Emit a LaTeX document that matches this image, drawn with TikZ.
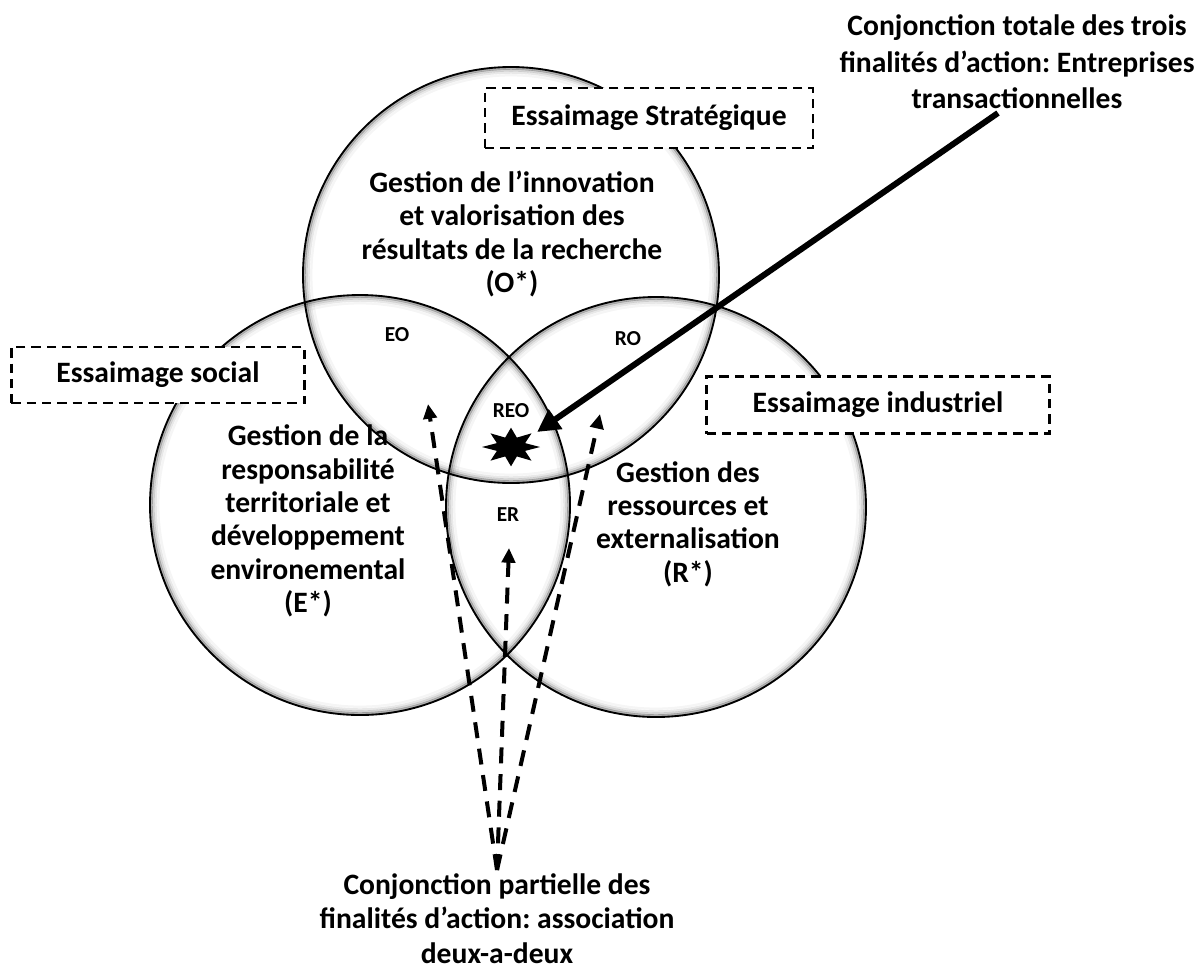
\documentclass[tikz,border=0pt]{standalone}
\usepackage{fontspec}
\setmainfont{Carlito}
\usetikzlibrary{arrows.meta,shapes.geometric}
\frenchspacing

\newcommand\softring[2]{%
  \foreach \d/\op in {1.2/0.30,2.6/0.17,4.2/0.09,6.2/0.04}{%
    \draw[line width=1.7pt,black,opacity=\op] (#1) circle[radius=#2-\d pt];}%
  \draw[line width=1.4pt] (#1) circle[radius=#2];}

\begin{document}
\begin{tikzpicture}[x=0.75pt,y=-0.75pt,
  bigtxt/.style={font=\fontsize{22.2}{25}\selectfont\bfseries,align=center,inner sep=0pt},
  notetxt/.style={font=\fontsize{22.2}{27.5}\selectfont\bfseries,align=center,inner sep=0pt},
  zonelbl/.style={font=\fontsize{16}{19}\selectfont\bfseries,inner sep=0pt},
  tagbox/.style={draw,line width=1.8pt,dash pattern=on 7pt off 4.5pt,fill=white,
    inner sep=0pt,font=\fontsize{22.2}{25}\selectfont\bfseries},
  dasharrow/.style={line width=3pt,dash pattern=on 12pt off 8pt,
    -{Triangle[length=11pt,width=10pt]}},
  bigarrow/.style={line width=4.5pt,-{Triangle[length=17pt,width=17pt]}}]

\useasboundingbox (0,0) rectangle (1200,972);
\fill[white] (0,0) rectangle (1200,972);

% the three domains
\coordinate (cO) at (511,275);
\coordinate (cE) at (360,505);
\coordinate (cR) at (656,507);
\softring{cO}{156pt}
\softring{cE}{157.5pt}
\softring{cR}{157.5pt}

% dashed labels of the three kinds of spin-off
\node[tagbox,minimum width=246pt,minimum height=45pt] (strat) at (649,118) {Essaimage Stratégique};
\node[tagbox,minimum width=220pt,minimum height=42pt] (social) at (158,375) {Essaimage social};
\node[tagbox,minimum width=257pt,minimum height=43pt] (indus) at (878,405) {Essaimage industriel};

% texts inside the circles
\node[bigtxt] (tO) at (512,234) {Gestion de l'innovation\\et valorisation des\hspace*{0.8em}\\résultats de la recherche\\(O*)};
\node[bigtxt] (tE) at (308,521) {Gestion de la\\responsabilité\\territoriale et\\développement\\environemental\\(E*)};
\node[bigtxt] (tR) at (688,524) {Gestion des\\ressources et\\externalisation\\(R*)};

% intersection zones
\node[zonelbl] (EO) at (397,335) {EO};
\node[zonelbl] (RO) at (628,339) {RO};
\node[zonelbl] (REO) at (511,411) {REO};
\node[zonelbl] (ER) at (508,515) {ER};
\node[star,star points=8,star point ratio=1.9,fill=black,inner sep=0pt,
  minimum size=29pt,xscale=1.5,transform shape] (burst) at (511,447) {};

% full conjunction
\node[notetxt] (total) at (1017,62) {Conjonction totale des trois\\finalités d’action: Entreprises\\transactionnelles};
\coordinate (tfrom) at (998,113);
\coordinate (thit) at (537,432);
\draw[bigarrow] (tfrom) -- (thit);

% partial conjunctions
\node[font=\fontsize{22.2}{26}\selectfont\bfseries,align=center,inner sep=0pt,anchor=north]
  (partial) at (497,873) {Conjonction partielle des\\finalités d’action: association\\deux-a-deux};
\coordinate (src) at (497,870);
\coordinate (toEO) at (428,404);
\coordinate (toER) at (509,548);
\coordinate (toRO) at (600,414);
\draw[dasharrow] (src) -- (toEO);
\draw[dasharrow] (src) -- (toER);
\draw[dasharrow] (src) -- (toRO);
\end{tikzpicture}
\end{document}
